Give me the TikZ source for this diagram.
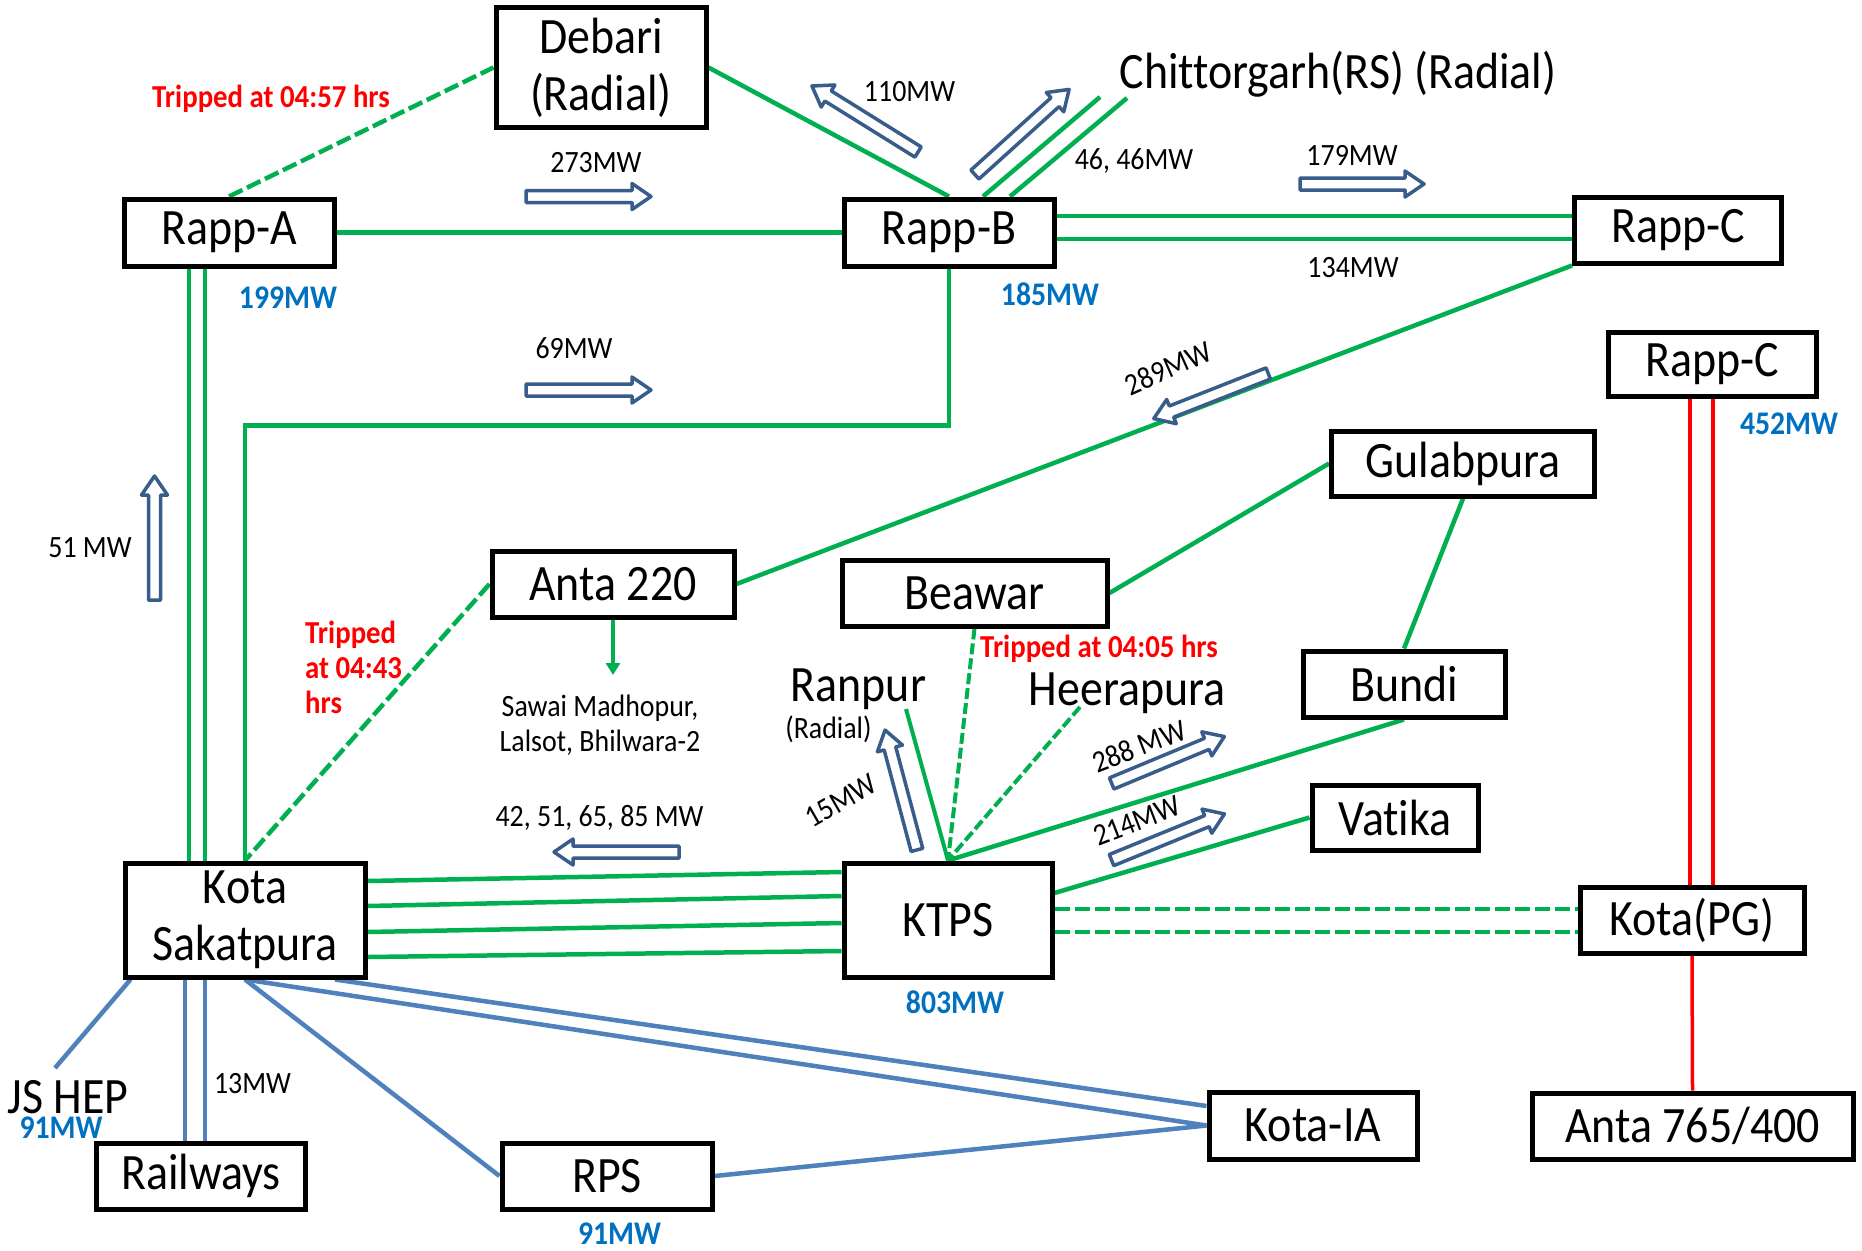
\documentclass[tikz,border=0pt]{standalone}
\usepackage{fontspec}
\setmainfont[FakeStretch=0.9, Ligatures=NoCommon]{Carlito}
\usetikzlibrary{arrows.meta,calc}
\definecolor{lineGreen}{HTML}{00B050}
\definecolor{lineBlue}{HTML}{4F81BD}
\definecolor{flowBlue}{HTML}{385D8A}
\definecolor{mwBlue}{HTML}{0070C0}
\definecolor{tripRed}{HTML}{FF0000}
\pgfdeclarelayer{back}
\pgfdeclarelayer{bg}
\pgfsetlayers{back,bg,main}

\begin{document}
\begin{tikzpicture}[x=1pt,y=-1pt,
  station/.style={draw=black, line width=5pt, fill=white, inner sep=0pt,
    align=center, font=\fontsize{51}{57}\selectfont},
  bigtext/.style={font=\fontsize{51}{57}\selectfont, inner sep=0pt, anchor=base},
  mw/.style={font=\fontsize{31}{36}\selectfont, inner sep=0pt, anchor=base},
  gen/.style={font=\fontsize{33}{38}\selectfont\bfseries, text=mwBlue, inner sep=0pt, anchor=base},
  trip/.style={font=\fontsize{32}{36}\selectfont\bfseries, text=tripRed, inner sep=0pt, anchor=base},
  line220/.style={draw=lineGreen, line width=4.5pt},
  tripped/.style={draw=lineGreen, line width=4.5pt, dash pattern=on 15pt off 5pt},
  shorttrip/.style={draw=lineGreen, line width=4pt, dash pattern=on 11pt off 4pt},
  line132/.style={draw=lineBlue, line width=4.5pt},
  line400/.style={draw=tripRed, line width=3.5pt},
  pics/flow/.style={code={
    \draw[draw=flowBlue, fill=white, line width=3.5pt, line join=round]
      (-#1/2,-6) -- (#1/2-19,-6) -- (#1/2-19,-13) -- (#1/2,0)
      -- (#1/2-19,13) -- (#1/2-19,6) -- (-#1/2,6) -- cycle;}}
]
\begin{pgfonlayer}{back}
\fill[white] (0,0) rectangle (1862,1250);
\end{pgfonlayer}
\path[use as bounding box] (0,0) rectangle (1862,1250);

% substations
\node[station, minimum width=210pt, minimum height=120pt] (debari) at (601,67.5) {Debari\\(Radial)};
\node[station, minimum width=210pt, minimum height=67pt] (rappA) at (229,232.5) {Rapp-A};
\node[station, minimum width=210pt, minimum height=67pt] (rappB) at (949,232.5) {Rapp-B};
\node[station, minimum width=207pt, minimum height=66pt] (rappC1) at (1678,230) {Rapp-C};
\node[station, minimum width=208pt, minimum height=64pt] (rappC2) at (1712,364) {Rapp-C};
\node[station, minimum width=263pt, minimum height=65pt] (gulab) at (1463,463.5) {Gulabpura};
\node[station, minimum width=242pt, minimum height=66pt] (anta220) at (613,584) {Anta 220};
\node[station, minimum width=265pt, minimum height=66pt] (beawar) at (974.5,593) {Beawar};
\node[station, minimum width=202pt, minimum height=66pt] (bundi) at (1404,684) {Bundi};
\node[station, minimum width=166pt, minimum height=65pt] (vatika) at (1395,817.5) {Vatika};
\node[station, minimum width=240pt, minimum height=114pt] (kotaS) at (245,920) {Kota\\Sakatpura};
\node[station, minimum width=208pt, minimum height=114pt] (ktps) at (948,920) {KTPS};
\node[station, minimum width=224pt, minimum height=66pt] (kotaPG) at (1692,920) {Kota(PG)};
\node[station, minimum width=208pt, minimum height=67pt] (kotaIA) at (1313,1125.5) {Kota-IA};
\node[station, minimum width=321pt, minimum height=66pt] (anta765) at (1692.5,1126) {Anta 765/400};
\node[station, minimum width=209pt, minimum height=66pt] (railways) at (201,1176) {Railways};
\node[station, minimum width=210pt, minimum height=66pt] (rps) at (607,1176) {RPS};

% unboxed stations
\node[bigtext] (chitt) at (1338,88) {Chittorgarh(RS) (Radial)};
\node[bigtext] (ranpur) at (858.5,701) {Ranpur};
\node[mw] (ranpurR) at (828.5,738) {(Radial)};
\node[bigtext] (heera) at (1127,705) {Heerapura};
\node[bigtext] (jshep) at (68,1113) {JS HEP};

\coordinate (chit1) at (1100,97);
\coordinate (chit2) at (1127,98);
\coordinate (ranpurEnd) at (906,709);
\coordinate (heeraEnd) at (1080,707);
\coordinate (jsEnd) at (55,1068);
\coordinate (sawaiTip) at (613,675);

\begin{pgfonlayer}{bg}
% 220 kV network
\draw[tripped] (rappA.north) -- (debari.west);
\draw[line220] (debari.east) -- (rappB.north);
\draw[line220] (rappA.east) -- (rappB.west);
\draw[line220] ([xshift=34pt]rappB.north) -- (chit1);
\draw[line220] ([xshift=61pt]rappB.north) -- (chit2);
\draw[line220] (rappB.east |- 0,216) -- (rappC1.west |- 0,216);
\draw[line220] (rappB.east |- 0,239) -- (rappC1.west |- 0,239);
\draw[line220] (rappB.south) |- (kotaS.north |- 0,425.5) -- (kotaS.north);
\draw[line220] (rappA.south -| 189,0) -- (kotaS.north -| 189,0);
\draw[line220] (rappA.south -| 205,0) -- (kotaS.north -| 205,0);
\draw[line220] (rappC1.south west) -- (anta220.east);
\draw[tripped] (anta220.west) -- (kotaS.north);
\draw[line220, -{Triangle[width=14pt,length=12pt]}] (anta220.south) -- (sawaiTip);
\draw[line220] (gulab.west) -- (beawar.east);
\draw[line220] (gulab.south) -- (bundi.north);
\draw[shorttrip] (beawar.south) -- (ktps.north);
\draw[line220, line width=4pt] (ranpurEnd) -- (ktps.north);
\draw[shorttrip] (heeraEnd) -- (ktps.north);
\draw[line220] (bundi.south) -- (ktps.north);
\draw[line220] (vatika.west) -- ([yshift=27pt]ktps.east);
\draw[line220] (kotaS.east |- 0,881) -- (ktps.west |- 0,872);
\draw[line220] (kotaS.east |- 0,906) -- (ktps.west |- 0,896);
\draw[line220] (kotaS.east |- 0,932) -- (ktps.west |- 0,923);
\draw[line220] (kotaS.east |- 0,957) -- (ktps.west |- 0,951);
\draw[tripped] (ktps.east |- 0,909) -- (kotaPG.west |- 0,909);
\draw[tripped] (ktps.east |- 0,932) -- (kotaPG.west |- 0,932);
% 400 kV network
\draw[line400] (rappC2.south -| 1690,0) -- (kotaPG.north -| 1690,0);
\draw[line400] (rappC2.south -| 1713,0) -- (kotaPG.north -| 1713,0);
\draw[line400] (kotaPG.south) -- (anta765.north);
% 132 kV network
\draw[line132] ([xshift=8pt]kotaS.south west) -- (jsEnd);
\draw[line132] (kotaS.south -| 185,0) -- (railways.north -| 185,0);
\draw[line132] (kotaS.south -| 205,0) -- (railways.north -| 205,0);
\draw[line132] (kotaS.south) -- (rps.west);
\draw[line132] (kotaS.south -| 335,0) -- ([yshift=19.5pt]kotaIA.west);
\draw[line132] (kotaS.south) -- (kotaIA.west);
\draw[line132] (rps.east) -- (kotaIA.west);
\end{pgfonlayer}

% power flow arrows
\pic at (588.5,196.5) {flow=125};
\pic[rotate=148.1] at (865,119) {flow=125};
\pic[rotate=42.1] at (1022,132) {flow=127};
\pic at (1362,184) {flow=124};
\pic at (588.5,390) {flow=125};
\pic[rotate=201.5] at (1211,396) {flow=123};
\pic[rotate=90] at (154.5,538) {flow=124};
\pic[rotate=180] at (616.5,852) {flow=125};
\pic[rotate=104.9] at (901,790) {flow=124};
\pic[rotate=22.6] at (1168,760) {flow=122};
\pic[rotate=22.2] at (1168,837) {flow=122};

% flow values
\node[mw] (v273) at (596,172) {273MW};
\node[mw] (v110) at (909.5,101) {110MW};
\node[mw] (v46) at (1134,169) {46, 46MW};
\node[mw] (v179) at (1352,165) {179MW};
\node[mw] (v134) at (1353,277) {134MW};
\node[mw] (v69) at (574,358) {69MW};
\node[mw] (v51) at (90,557) {51 MW};
\node[mw] (v42) at (599.5,826) {42, 51, 65, 85 MW};
\node[mw] (v13) at (252.5,1093) {13MW};
\node[mw, anchor=center, rotate=24] (v289) at (1168,368) {289MW};
\node[mw, anchor=center, rotate=21] (v288) at (1139,746) {288 MW};
\node[mw, anchor=center, rotate=21] (v214) at (1137,821) {214MW};
\node[mw, anchor=center, rotate=30] (v15) at (841,801) {15MW};
\node[mw] (sawai1) at (600,716) {Sawai Madhopur,};
\node[mw] (sawai2) at (600,751) {Lalsot, Bhilwara-2};

% generation
\node[gen] (g199) at (288,308) {199MW};
\node[gen] (g185) at (1050,305) {185MW};
\node[gen] (g452) at (1789,434) {452MW};
\node[gen] (g803) at (955,1013) {803MW};
\node[gen] (gjs) at (61,1138) {91MW};
\node[gen] (grps) at (619.5,1244) {91MW};

% trippings
\node[trip] (t457) at (271,107) {Tripped at 04:57 hrs};
\node[trip, anchor=base west] (t443a) at (305,643) {Tripped};
\node[trip, anchor=base west] (t443b) at (305,678) {at 04:43};
\node[trip, anchor=base west] (t443c) at (305,713) {hrs};
\node[trip, anchor=base west] (t405) at (980,657) {Tripped at 04:05 hrs};
\end{tikzpicture}
\end{document}
